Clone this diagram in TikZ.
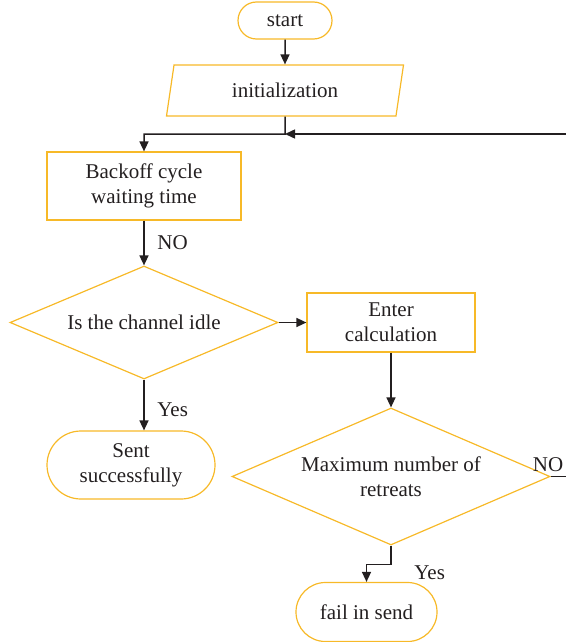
\documentclass[tikz,border=0pt]{standalone}
\usepackage{fontspec}
\setmainfont{Liberation Serif}
\usetikzlibrary{arrows.meta}
\usetikzlibrary{shapes.geometric}
\usetikzlibrary{shapes.misc}
\definecolor{boxorange}{RGB}{247,185,40}
\definecolor{linegray}{RGB}{35,31,32}

\begin{document}
\begin{tikzpicture}[x=0.5pt, y=-0.5pt, >={Triangle[length=5pt,width=4.5pt]},
    font=\fontsize{10.5}{12.5}\selectfont,
    every node/.style={text=linegray},
    box/.style={draw=boxorange, line width=0.6pt, rectangle, align=center, inner sep=0pt},
    term/.style={draw=boxorange, line width=0.6pt, rounded rectangle, align=center, inner sep=0pt},
    para/.style={draw=boxorange, line width=0.6pt, trapezium, trapezium left angle=63, trapezium right angle=117, trapezium stretches body, inner sep=0pt},
    decide/.style={draw=boxorange, line width=0.6pt, diamond, align=center, inner sep=0pt},
    flow/.style={draw=linegray, line width=0.75pt}]
    \useasboundingbox (0,0) rectangle (566,642);

    \node[term, minimum width=47pt, minimum height=18.5pt] (start) at (285,20.5) {start};
    \node[para, minimum width=118.5pt, minimum height=25.5pt] (init) at (285,90.5) {initialization};
    \node[box, minimum width=97pt, minimum height=34pt] (backoff) at (144,186) {Backoff cycle\\waiting time};
    \node[decide, minimum width=134pt, minimum height=56.5pt, aspect=2.37] (idle) at (144,322.5) {Is the channel idle};
    \node[box, minimum width=84pt, minimum height=29.5pt] (enter) at (391,322.5) {Enter\\calculation};
    \node[term, minimum width=84pt, minimum height=34pt] (sent) at (131,465) {Sent\\successfully};
    \node[decide, minimum width=159pt, minimum height=68.5pt, aspect=2.32] (retreat) at (391,476.5) {Maximum number of\\retreats};
    \node[term, minimum width=70.5pt, minimum height=29.5pt] (fail) at (366.5,612) {fail in send};

    \coordinate (join) at (285,134);
    \coordinate (backin) at (566,134);
    \coordinate (noout) at (566,476.5);

    \draw[flow, ->] (start) -- (init);
    \draw[flow, ->] (init.south) -- (join) -| (backoff.north);
    \draw[flow, ->] (backin) -- (join);
    \draw[flow, ->] (backoff) -- node[right, xshift=3pt] {NO} (idle);
    \draw[flow, ->] (idle.south) -- node[pos=0.6, right, xshift=3pt] {Yes} (idle.south |- sent.north);
    \draw[flow, ->] (idle.east) -- (enter.west);
    \draw[flow, ->] (enter) -- (retreat);
    \draw[flow, ->] (retreat.south) -- ++(0,19) node[right, xshift=8pt, yshift=-4pt] {Yes} -| (fail.north);
    \draw[flow] (retreat.east) -- (noout) node[above left, inner sep=1pt, yshift=1pt] {NO};
\end{tikzpicture}
\end{document}
